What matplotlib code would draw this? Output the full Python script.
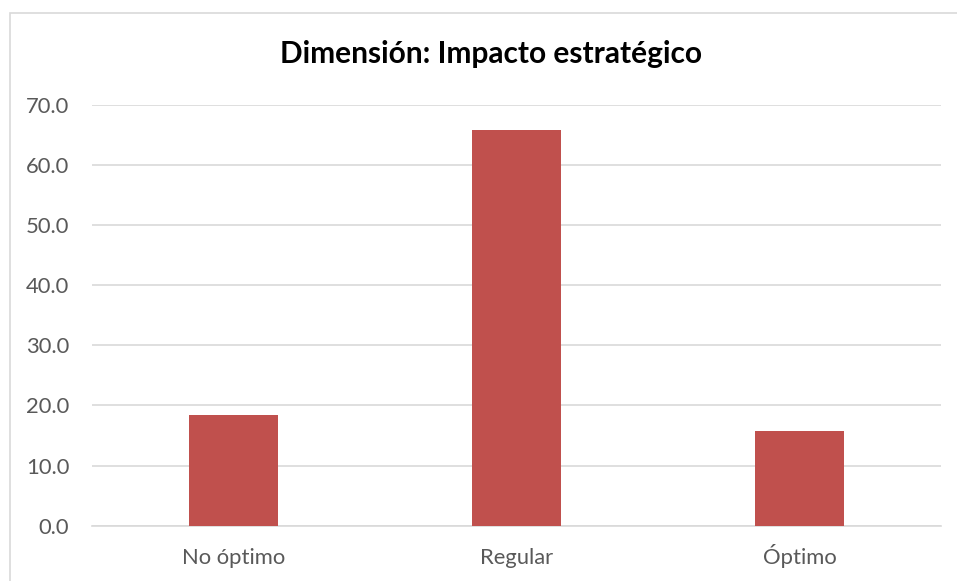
import matplotlib
matplotlib.use("Agg")
import matplotlib.pyplot as plt
from matplotlib.patches import Rectangle

# data
categories = ["No óptimo", "Regular", "Óptimo"]
values = [18.4, 65.8, 15.8]
yticks = [0, 10, 20, 30, 40, 50, 60, 70]

bar_red = "#C0504D"
grid_gray = "#D9D9D9"
label_gray = "#595959"

plt.rcParams['font.family'] = ['Lato', 'DejaVu Sans']

fig = plt.figure(figsize=(9.57, 5.81), dpi=100)
ax = fig.add_axes([92 / 957, 1 - 525.7 / 581, (941 - 92) / 957, (525.7 - 104.7) / 581])

x = list(range(len(categories)))
ax.bar(x, values, width=0.313, color=bar_red, zorder=3)

ax.set_xlim(-0.5, len(categories) - 0.5)
ax.set_ylim(0, 70)
ax.set_yticks(yticks)
ax.set_yticklabels([f"{v:.1f}" for v in yticks])
ax.set_xticks(x)
# baseline alignment so the accented "Ó" does not push its label down
ax.set_xticklabels(categories, va='baseline')

ax.yaxis.grid(True, color=grid_gray, linewidth=1.2, zorder=0)
ax.set_axisbelow(True)
for s in ["top", "right", "left"]:
    ax.spines[s].set_visible(False)
ax.spines["bottom"].set_color(grid_gray)
ax.spines["bottom"].set_linewidth(1.2)
ax.tick_params(axis='both', length=0, labelsize=15.8, labelcolor=label_gray)
ax.tick_params(axis='y', pad=16.5)
ax.tick_params(axis='x', pad=27.5)

fig.text(491 / 957, 1 - 54 / 581, "Dimensión: Impacto estratégico", ha='center', va='center',
         fontsize=21.5, fontweight='bold', color='black')

# outer chart border (right/bottom edges fall outside the picture)
fig.patches.append(Rectangle((10 / 957, -0.1), 1.2, 1 - 12.7 / 581 + 0.1, transform=fig.transFigure,
                             fill=False, edgecolor=grid_gray, linewidth=1.2))

fig.savefig("out.png", dpi=100)
plt.close(fig)
